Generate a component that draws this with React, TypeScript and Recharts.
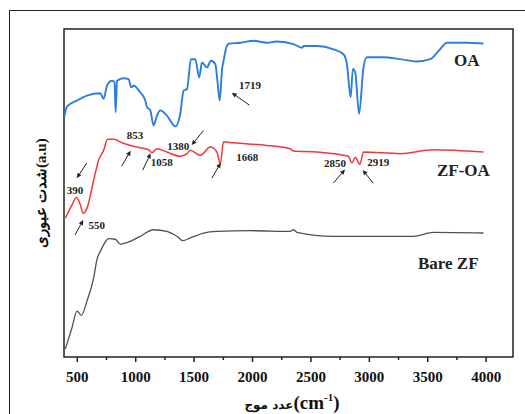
import { LineChart, Line, XAxis, YAxis, ReferenceArea, ReferenceLine, ReferenceDot } from "recharts";

// FTIR spectra: wavenumber (cm-1) vs transmittance (a.u), curves offset vertically
const oaWavenumber = [391, 412, 497, 583, 697, 725, 754, 797, 819, 828, 840, 896, 939, 962, 982, 1039, 1082, 1096, 1125, 1153, 1182, 1210, 1267, 1339, 1381, 1410, 1439, 1473, 1510, 1544, 1567, 1610, 1644, 1681, 1700, 1719, 1740, 1752, 1775, 1795, 1895, 2009, 2123, 2209, 2351, 2423, 2440, 2551, 2693, 2779, 2808, 2840, 2859, 2879, 2912, 2950, 2979, 3121, 3264, 3407, 3521, 3600, 3664, 3835, 3977];
const oaSignal = [73.6, 76.4, 78.2, 79.7, 80.4, 78.7, 82.7, 84.2, 83.7, 74.6, 84.2, 85.0, 84.7, 82.2, 82.7, 80.7, 78.2, 76.2, 75.2, 70.6, 73.6, 75.2, 73.6, 70.3, 74.1, 81.2, 81.7, 90.8, 90.8, 85.2, 89.8, 88.3, 90.3, 89.3, 84.0, 78.2, 88.0, 90.3, 94.3, 95.5, 95.8, 96.4, 95.8, 96.2, 95.4, 94.3, 94.8, 94.8, 93.8, 92.3, 89.3, 79.2, 87.8, 86.8, 74.1, 88.3, 91.4, 91.4, 90.8, 90.1, 90.8, 93.6, 95.8, 95.8, 95.6];

const zfoaWavenumber = [397, 455, 491, 526, 550, 583, 640, 682, 725, 759, 811, 882, 954, 1039, 1110, 1139, 1182, 1267, 1381, 1439, 1467, 1553, 1638, 1695, 1724, 1752, 1838, 2123, 2323, 2351, 2551, 2779, 2820, 2850, 2880, 2919, 2950, 3264, 3549, 3977];
const zfoaSignal = [42.3, 46.4, 48.6, 46.4, 43.8, 45.4, 53.9, 60.0, 63.0, 66.4, 66.4, 65.3, 64.5, 63.8, 63.2, 62.3, 63.5, 62.5, 61.2, 62.0, 63.0, 61.5, 64.0, 62.5, 58.8, 65.6, 65.3, 64.5, 63.5, 62.8, 62.5, 61.5, 61.2, 59.2, 60.8, 58.8, 62.5, 62.0, 63.2, 62.5];

const bareWavenumber = [397, 455, 497, 534, 583, 640, 668, 697, 725, 768, 825, 868, 925, 1039, 1153, 1267, 1353, 1404, 1467, 1581, 1695, 1981, 2323, 2351, 2380, 2693, 3378, 3549, 3977];
const bareSignal = [2.4, 9.0, 14.0, 12.7, 17.1, 24.1, 29.7, 32.2, 34.2, 36.1, 35.9, 34.4, 34.9, 36.8, 38.8, 38.3, 36.8, 35.5, 36.3, 37.8, 38.3, 38.5, 38.3, 38.8, 38.0, 36.8, 36.8, 38.0, 37.8];

const majorTicks = [500, 1000, 1500, 2000, 2500, 3000, 3500, 4000];
const minorTicks = [750, 1250, 1750, 2250, 2750, 3250, 3750];

// peak annotations: label text and position
const peakLabelText = ["1719", "853", "1058", "1380", "1668", "2850", "2919", "390", "550"];
const peakLabelX = [1979, 994, 1223, 1365, 1955, 2706, 3077, 480, 666];
const peakLabelY = [82.9, 67.7, 59.4, 64.3, 61.1, 59.2, 59.5, 50.9, 40.2];

// arrows: tail (x, y) -> head (x, y)
const arrowTailX = [1973, 580, 480, 880, 1060, 1579, 1651, 2692, 3034];
const arrowTailY = [76.8, 59.1, 37.2, 58.2, 57.0, 69.0, 54.5, 53.0, 53.0];
const arrowHeadX = [1822, 495, 551, 957, 1128, 1479, 1728, 2792, 2943];
const arrowHeadY = [80.6, 54.5, 41.8, 62.9, 62.1, 64.6, 59.2, 57.2, 57.0];

const seriesNames = ["OA", "ZF-OA", "Bare ZF"];
const seriesNameX = [3834, 3805, 3676];
const seriesNameY = [90.5, 57.0, 28.6];

const X_DOMAIN = [386, 4230];
const SERIF = "'Times New Roman', 'Liberation Serif', serif";

const toPoints = (xs: number[], ys: number[]) => xs.map((x, i) => ({ x, y: ys[i] }));
const oaData = toPoints(oaWavenumber, oaSignal);
const zfoaData = toPoints(zfoaWavenumber, zfoaSignal);
const bareData = toPoints(bareWavenumber, bareSignal);
const allTicks = [...majorTicks, ...minorTicks].sort((a, b) => a - b);

const AxisTick = ({ x, y, payload }: any) => {
  const major = majorTicks.includes(payload.value);
  return (
    <g>
      <line x1={x} x2={x} y1={y} y2={y + (major ? 5 : 3)} stroke="#222" strokeWidth={1.5} />
      {major && (
        <text x={x} y={y + 25} textAnchor="middle" fontFamily={SERIF} fontWeight="bold" fontSize={15} fill="#111">
          {payload.value}
        </text>
      )}
    </g>
  );
};

const XTitle = ({ viewBox }: any) => {
  const cx = viewBox.x + viewBox.width / 2 + 5;
  return (
    <g fontWeight="bold" fill="#111">
      <text x={cx} y={409} textAnchor="end" fontFamily="'DejaVu Sans', sans-serif" fontSize={12}>
        عدد موج
      </text>
      <text x={cx} y={409} textAnchor="start" fontFamily={SERIF} fontSize={19}>
        (cm<tspan fontSize={11} dy={-8}>-1</tspan><tspan dy={8}>)</tspan>
      </text>
    </g>
  );
};

const YTitle = ({ viewBox }: any) => {
  const cx = 41;
  const cy = viewBox.y + viewBox.height / 2;
  return (
    <text
      x={cx}
      y={cy}
      transform={`rotate(-90 ${cx} ${cy})`}
      textAnchor="middle"
      dominantBaseline="central"
      fontFamily={SERIF}
      fontWeight="bold"
      fontSize={15}
      fill="#111"
    >
      شدت عبوری(a.u)
    </text>
  );
};

const Arrow = ({ x1, y1, x2, y2 }: any) => {
  const a = Math.atan2(y2 - y1, x2 - x1);
  const len = 5;
  const w = 2.3;
  const bx = x2 - len * Math.cos(a);
  const by = y2 - len * Math.sin(a);
  const pts = `${x2},${y2} ${bx - w * Math.sin(a)},${by + w * Math.cos(a)} ${bx + w * Math.sin(a)},${by - w * Math.cos(a)}`;
  return (
    <g>
      <line x1={x1} y1={y1} x2={bx} y2={by} stroke="#222" strokeWidth={1} />
      <polygon points={pts} fill="#222" />
    </g>
  );
};

const textShape = (text: string, size: number) => (p: any) => (
  <text x={p.cx} y={p.cy} textAnchor="middle" dominantBaseline="central" fontFamily={SERIF} fontWeight="bold" fontSize={size} fill="#222">
    {text}
  </text>
);

export default function App() {
  return (
    <div style={{ position: "absolute", left: 0, top: 0, width: 525, height: 414, background: "#fff", overflow: "hidden" }}>
      <div style={{ position: "absolute", left: 9, top: 10, width: 540, height: 420, borderLeft: "1.5px solid #222", borderTop: "1.5px solid #222" }} />
      <LineChart width={525} height={414} margin={{ top: 29, right: 12, bottom: 0, left: 0 }}>
        <XAxis
          type="number"
          dataKey="x"
          domain={X_DOMAIN}
          allowDataOverflow
          ticks={allTicks}
          interval={0}
          tick={<AxisTick />}
          tickLine={false}
          tickSize={0}
          tickMargin={0}
          axisLine={false}
          height={57}
          label={{ content: <XTitle /> }}
        />
        <YAxis
          type="number"
          domain={[0, 100]}
          allowDataOverflow
          width={64}
          tick={false}
          tickLine={false}
          axisLine={false}
          label={{ content: <YTitle /> }}
        />
        <ReferenceArea x1={X_DOMAIN[0]} x2={X_DOMAIN[1]} y1={0} y2={100} fill="none" stroke="#222" strokeWidth={1.5} ifOverflow="visible" />
        <Line data={bareData} dataKey="y" type="monotone" stroke="#505050" strokeWidth={1.3} dot={false} isAnimationActive={false} />
        <Line data={zfoaData} dataKey="y" type="monotone" stroke="#f03a3a" strokeWidth={1.5} dot={false} isAnimationActive={false} />
        <Line data={oaData} dataKey="y" type="monotone" stroke="#2b7de0" strokeWidth={1.9} dot={false} isAnimationActive={false} />
        {arrowTailX.map((tx, i) => (
          <ReferenceLine
            key={`arrow-${i}`}
            segment={[{ x: tx, y: arrowTailY[i] }, { x: arrowHeadX[i], y: arrowHeadY[i] }]}
            shape={Arrow}
            ifOverflow="visible"
          />
        ))}
        {peakLabelText.map((t, i) => (
          <ReferenceDot key={`peak-${i}`} x={peakLabelX[i]} y={peakLabelY[i]} r={0} shape={textShape(t, 11)} ifOverflow="visible" />
        ))}
        {seriesNames.map((t, i) => (
          <ReferenceDot key={`name-${i}`} x={seriesNameX[i]} y={seriesNameY[i]} r={0} shape={textShape(t, 17)} ifOverflow="visible" />
        ))}
      </LineChart>
    </div>
  );
}
